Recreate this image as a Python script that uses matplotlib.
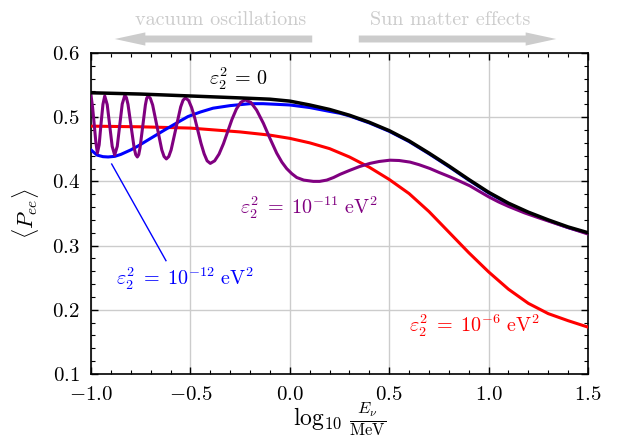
import matplotlib
matplotlib.use('Agg')
import matplotlib.pyplot as plt

plt.rcParams['mathtext.fontset'] = 'cm'
plt.rcParams['font.family'] = 'cmr10'
plt.rcParams['axes.formatter.use_mathtext'] = True
plt.rcParams['axes.unicode_minus'] = False

# eps_2^2 = 0
x_black = [-1.0, -0.75, -0.5, -0.25, -0.1, 0.0, 0.1, 0.2, 0.3, 0.4, 0.5, 0.6, 0.7,
           0.8, 0.9, 1.0, 1.1, 1.2, 1.3, 1.4, 1.5]
y_black = [0.538, 0.536, 0.533, 0.530, 0.528, 0.525, 0.519, 0.512, 0.503, 0.492, 0.479, 0.463, 0.444,
           0.424, 0.403, 0.383, 0.366, 0.352, 0.340, 0.329, 0.320]

# eps_2^2 = 1e-12 eV^2
x_blue = [-1.0, -0.97, -0.94, -0.914, -0.88, -0.85, -0.8, -0.764, -0.7, -0.63, -0.552, -0.512,
          -0.45, -0.386, -0.3, -0.2, -0.135, 0.0, 0.1, 0.2, 0.253, 0.3, 0.4, 0.5, 0.6,
          0.7, 0.8, 0.9, 1.0, 1.1, 1.2, 1.3, 1.4, 1.5]
y_blue = [0.449, 0.441, 0.4385, 0.438, 0.439, 0.442, 0.449, 0.455, 0.467, 0.480, 0.494, 0.501,
          0.508, 0.514, 0.518, 0.521, 0.521, 0.519, 0.515, 0.509, 0.506, 0.502, 0.491, 0.478, 0.462,
          0.443, 0.423, 0.402, 0.382, 0.365, 0.351, 0.339, 0.328, 0.319]

# eps_2^2 = 1e-11 eV^2
x_purple = [-1.0, -0.992, -0.984, -0.976, -0.968, -0.959, -0.95, -0.94, -0.931, -0.9185, -0.906,
            -0.8935, -0.881, -0.868, -0.8555, -0.843, -0.83, -0.822, -0.814, -0.7985, -0.783,
            -0.775, -0.767, -0.76, -0.7535, -0.74, -0.7265, -0.72, -0.713, -0.7015, -0.69,
            -0.667, -0.644, -0.6325, -0.621, -0.609, -0.597, -0.573, -0.549, -0.537, -0.525,
            -0.509, -0.494, -0.478, -0.4625, -0.447, -0.431, -0.416, -0.4,
            -0.378, -0.356, -0.334, -0.3125, -0.291, -0.269, -0.247, -0.225, -0.196, -0.167,
            -0.133, -0.1, -0.066, -0.04, -0.016, 0.01, 0.035, 0.07, 0.118, 0.15, 0.186, 0.22,
            0.253, 0.3, 0.35, 0.403, 0.45, 0.504, 0.55, 0.605, 0.65, 0.705, 0.75, 0.806, 0.85,
            0.906, 0.95, 1.0, 1.05, 1.1, 1.18, 1.259, 1.38, 1.5]
y_purple = [0.534, 0.515, 0.489, 0.462, 0.444, 0.457, 0.4885, 0.520, 0.533, 0.5195, 0.487,
            0.4545, 0.441, 0.4546, 0.4875, 0.5204, 0.534, 0.5304, 0.520, 0.486, 0.452,
            0.4416, 0.438, 0.4416, 0.452, 0.4855, 0.519, 0.5294, 0.533, 0.5293, 0.519,
            0.484, 0.449, 0.4387, 0.435, 0.4386, 0.449, 0.4825, 0.516, 0.5264, 0.530,
            0.526, 0.515, 0.4985, 0.479, 0.4595, 0.443, 0.432, 0.428,
            0.432, 0.4425, 0.4585, 0.4775, 0.4965, 0.5125, 0.523, 0.527, 0.523, 0.511,
            0.4905, 0.467, 0.444, 0.430, 0.420, 0.412, 0.406, 0.402, 0.400, 0.400, 0.402, 0.406,
            0.411, 0.417, 0.423, 0.428, 0.431, 0.433, 0.4325, 0.430, 0.426, 0.420, 0.414, 0.407, 0.401,
            0.393, 0.385, 0.376, 0.368, 0.361, 0.351, 0.3425, 0.330, 0.318]

# eps_2^2 = 1e-6 eV^2
x_red = [-1.0, -0.75, -0.5, -0.25, -0.1, 0.0, 0.1, 0.2, 0.3, 0.4, 0.5, 0.6, 0.7, 0.8, 0.9,
         1.0, 1.1, 1.2, 1.3, 1.4, 1.5]
y_red = [0.486, 0.485, 0.483, 0.477, 0.472, 0.467, 0.460, 0.451, 0.438, 0.422, 0.403, 0.381,
         0.353, 0.321, 0.289, 0.259, 0.232, 0.210, 0.194, 0.183, 0.173]

x_ticks = [-1.0, -0.5, 0.0, 0.5, 1.0, 1.5]
y_ticks = [0.1, 0.2, 0.3, 0.4, 0.5, 0.6]

fig = plt.figure(figsize=(6.2, 4.37), dpi=100)
ax = fig.add_axes([0.1468, 0.1442, 0.8016, 0.7346])

lw = 2.2
ax.plot(x_red, y_red, color='#ff0000', lw=lw, zorder=3)
ax.plot(x_blue, y_blue, color='#0000ff', lw=lw, zorder=4)
ax.plot(x_purple, y_purple, color='#800080', lw=lw, zorder=5)
ax.plot(x_black, y_black, color='black', lw=lw + 0.3, zorder=6)

# labels for each curve
fs = 14.5
ax.text(-0.256, 0.56, r'$\varepsilon_2^2\,=\,0$', color='black', fontsize=fs, ha='center', va='center')
ax.text(0.097, 0.359, r'$\varepsilon_2^2\;=\;10^{-11}\ \mathrm{eV}^2$', color='#800080',
        fontsize=fs, ha='center', va='center')
ax.text(-0.527, 0.249, r'$\varepsilon_2^2\;=\;10^{-12}\ \mathrm{eV}^2$', color='#0000ff',
        fontsize=fs, ha='center', va='center')
ax.text(0.927, 0.176, r'$\varepsilon_2^2\;=\;10^{-6}\ \mathrm{eV}^2$', color='#ff0000',
        fontsize=fs, ha='center', va='center')
ax.plot([-0.896, -0.623], [0.427, 0.2765], color='#0000ff', lw=1.0, zorder=4)

ax.set_xlim(-1.0, 1.5)
ax.set_ylim(0.1, 0.6)
ax.set_xticks(x_ticks)
ax.set_yticks(y_ticks)
ax.set_xticklabels([r'$%.1f$' % v for v in x_ticks])
ax.set_yticklabels([r'$%.1f$' % v for v in y_ticks])
ax.set_xticks([v / 10 for v in range(-10, 16)], minor=True)
ax.set_yticks([v / 100 for v in range(10, 61, 2)], minor=True)
ax.tick_params(which='both', direction='in', top=True, right=True, labelsize=15)
ax.tick_params(which='major', length=5, width=1)
ax.tick_params(which='minor', length=3, width=0.8)
ax.tick_params(axis='x', which='major', pad=9)
ax.tick_params(axis='y', which='major', pad=8)
ax.grid(True, which='major', color='#cccccc', lw=1.0)
for s in ax.spines.values():
    s.set_linewidth(1.2)

ax.set_xlabel(r'$\log_{10}\,\frac{E_\nu}{\mathrm{MeV}}$', fontsize=17)
ax.xaxis.label.set_va('center')
ax.xaxis.set_label_coords(0.5, -0.142)
ax.set_ylabel(r'$\langle P_{ee}\rangle$', fontsize=16, labelpad=8)

# gray arrows above the plot
arrow_y = 1 - 39 / 437
gray = '#cccccc'
style = 'simple,head_width=0.95,head_length=2.2,tail_width=0.5'
fig.patches.append(matplotlib.patches.FancyArrowPatch(
    (315 / 620, arrow_y), (112 / 620, arrow_y), transform=fig.transFigure,
    arrowstyle=style, mutation_scale=10, fc=gray, ec='none'))
fig.patches.append(matplotlib.patches.FancyArrowPatch(
    (356 / 620, arrow_y), (559 / 620, arrow_y), transform=fig.transFigure,
    arrowstyle=style, mutation_scale=10, fc=gray, ec='none'))
fig.text(221 / 620, 1 - 20 / 437, 'vacuum oscillations', color=gray, fontsize=14.5,
         ha='center', va='center')
fig.text(450 / 620, 1 - 20 / 437, 'Sun matter effects', color=gray, fontsize=14.5,
         ha='center', va='center')

fig.savefig('out.png', dpi=100)
